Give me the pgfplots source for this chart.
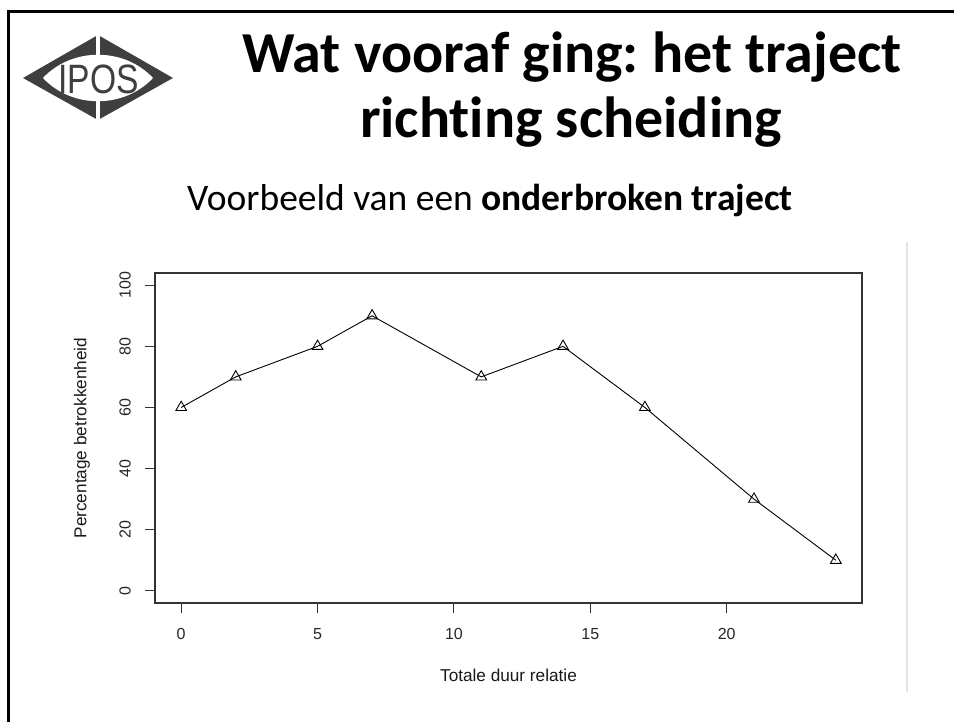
\documentclass[border=0pt]{standalone}
\usepackage{fontspec}
\usepackage{pgfplots}
\pgfplotsset{compat=1.18}
\newfontfamily\arial{Liberation Sans}
\newfontfamily\calibri[Ligatures=NoCommon]{Carlito}
\definecolor{logogray}{HTML}{3F3F3F}
\frenchspacing
\begin{document}
\begin{tikzpicture}[x=1pt,y=1pt]
\useasboundingbox (0,0) rectangle (954,722);
% slide frame
\draw[line width=3pt,black] (8.5,0) -- (8.5,710) -- (954,710);
% logo
\fill[logogray] (23,644) -- (98,687) -- (173,644) -- (98,602) -- cycle;
\fill[white] (43,644) .. controls (72,675) and (124,675) .. (153,644) .. controls (124,613) and (72,613) .. (43,644) -- cycle;
\draw[white,line width=4pt] (97.5,692) -- (97.5,664);
\draw[white,line width=4pt] (97.5,597) -- (97.5,624);
\node[anchor=base,inner sep=0pt,text=logogray,xscale=0.82,font=\arial\fontsize{41}{48}\selectfont] at (98.5,628) {IPOS};
% titles
\node[anchor=base,inner sep=0pt,font=\calibri\bfseries\fontsize{58}{69}\selectfont] at (572,649) {Wat vooraf ging: het traject};
\node[anchor=base,inner sep=0pt,font=\calibri\bfseries\fontsize{58}{69}\selectfont] at (571,584) {richting scheiding};
\node[anchor=base,inner sep=0pt,font=\calibri\fontsize{37.5}{44}\selectfont] at (490,511) {Voorbeeld van een \textbf{onderbroken traject}};
% light separator
\draw[line width=2pt,black!10] (907,480) -- (907,30);
\begin{axis}[
  at={(155pt,119pt)}, anchor=south west,
  scale only axis, width=707pt, height=330pt,
  xmin=-0.96, xmax=24.96, ymin=-4, ymax=104,
  xtick={0,5,10,15,20}, ytick={0,20,40,60,80,100},
  tick align=outside, tick pos=left,
  major tick length=10pt,
  axis line style={black!80,line width=1.3pt},
  every tick/.style={black!80,line width=1.1pt},
  /pgf/number format/assume math mode=true,
  tick label style={font=\arial\fontsize{16}{19}\selectfont, text=black!85},
  xticklabel style={anchor=north,inner sep=0pt},
  xticklabel shift=15pt,
  yticklabel style={rotate=90,anchor=south,inner sep=0pt},
  yticklabel shift=14pt,
  label style={font=\arial\fontsize{17.2}{20}\selectfont, text=black!90},
  xlabel={Totale duur relatie},
  xlabel style={at={(axis description cs:0.5,-0.2182)},anchor=center},
  ylabel={Percentage betrokkenheid},
  ylabel style={at={(axis description cs:-0.1033,0.5)},anchor=center},
]
\addplot[black,line width=0.9pt,mark=triangle,mark size=6.2pt,mark options={solid,line width=0.9pt,fill=none}]
  coordinates {(0,60) (2,70) (5,80) (7,90) (11,70) (14,80) (17,60) (21,30) (24,10)};
\end{axis}
\end{tikzpicture}
\end{document}
